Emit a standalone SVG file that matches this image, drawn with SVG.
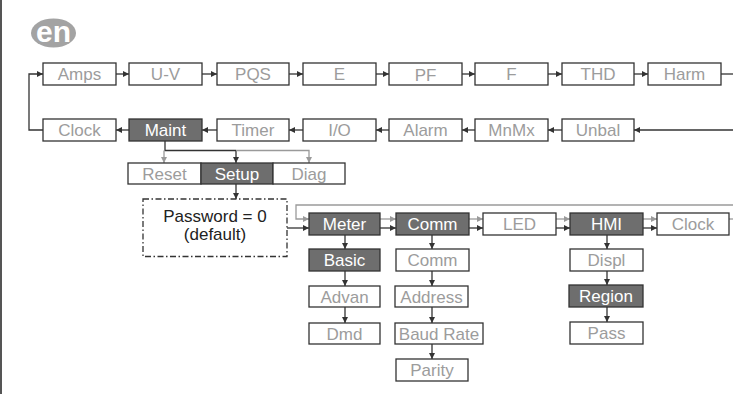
<svg xmlns="http://www.w3.org/2000/svg" width="733" height="394" viewBox="0 0 733 394">
<style>
.b{fill:#fff;stroke:#333;stroke-width:1.3}
.d{fill:#6e6e6e;stroke:#333;stroke-width:1.3}
.t{font-family:"Liberation Sans",Arial,sans-serif;font-size:17px;text-anchor:middle;fill:#9c9c9c}
.w{fill:#fff}
.k{fill:#222}
.c{fill:none;stroke:#333;stroke-width:1.3}
.g{fill:none;stroke:#9a9a9a;stroke-width:1.3}
.ca{marker-end:url(#ad)}
.ga{marker-end:url(#ag)}
</style>
<defs>
<marker id="ad" markerUnits="userSpaceOnUse" markerWidth="7" markerHeight="7" refX="6" refY="3" orient="auto"><path d="M0,0 L6,3 L0,6 z" fill="#333"/></marker>
<marker id="ag" markerUnits="userSpaceOnUse" markerWidth="7" markerHeight="7" refX="6" refY="3" orient="auto"><path d="M0,0 L6,3 L0,6 z" fill="#9a9a9a"/></marker>
</defs>
<rect width="733" height="394" fill="#fff"/>
<line x1="1" y1="0" x2="1" y2="394" stroke="#555" stroke-width="2"/>
<g id="badge">
<ellipse cx="53.5" cy="33" rx="22.5" ry="14.5" fill="#a3a3a3"/>
<text x="53.5" y="42" font-family="Liberation Sans,Arial,sans-serif" font-size="30" font-weight="bold" fill="#fff" text-anchor="middle">en</text>
</g>
<g id="connectors">
<!-- row 1 -->
<path class="c ca" d="M116,74 H129"/>
<path class="c ca" d="M202,74 H217"/>
<path class="c ca" d="M289,74 H303"/>
<path class="c ca" d="M376,74 H389"/>
<path class="c ca" d="M462,74 H475"/>
<path class="c ca" d="M548,74 H562"/>
<path class="c ca" d="M634,74 H648"/>
<path class="c" d="M721,74 H733"/>
<!-- row 2 -->
<path class="c ca" d="M733,130 H634"/>
<path class="c ca" d="M562,130 H548"/>
<path class="c ca" d="M475,130 H462"/>
<path class="c ca" d="M389,130 H376"/>
<path class="c ca" d="M303,130 H289"/>
<path class="c ca" d="M217,130 H202"/>
<path class="c ca" d="M129,130 H116"/>
<path class="c ca" d="M43,130 H29 V74 H43"/>
<!-- Maint to submenu -->
<path class="c" d="M165,141 V150.5 H236"/>
<path class="c ca" d="M236,150.5 V163"/>
<path class="g ga" d="M164,150.5 V163"/>
<path class="g ga" d="M236,150.5 H309 V163"/>
<!-- Setup to password -->
<path class="c ca" d="M236,184 V199"/>
<!-- row 4 -->
<path class="g ga" d="M733,205 H296 V219 H309"/>
<path class="c ca" d="M287,228 H309"/>
<path class="g ga" d="M380,219 H396"/>
<path class="c ca" d="M380,228 H396"/>
<path class="g ga" d="M469,219 H483"/>
<path class="c ca" d="M469,228 H483"/>
<path class="g ga" d="M556,219 H570"/>
<path class="c ca" d="M556,228 H570"/>
<path class="g ga" d="M643,219 H657"/>
<path class="c ca" d="M643,228 H657"/>
<path class="g" d="M729,219 H733"/>
<!-- columns -->
<path class="c ca" d="M345,235 V249"/>
<path class="c ca" d="M345,271 V286"/>
<path class="c ca" d="M345,307 V323"/>
<path class="c ca" d="M432,235 V249"/>
<path class="c ca" d="M432,271 V286"/>
<path class="c ca" d="M432,307 V323"/>
<path class="c ca" d="M432,344 V359"/>
<path class="c ca" d="M607,235 V249"/>
<path class="c ca" d="M607,271 V285"/>
<path class="c ca" d="M607,307 V322"/>
</g>
<g id="n-amps"><rect class="b" x="43" y="63" width="73" height="22"/><text class="t" x="79.5" y="80">Amps</text></g>
<g id="n-uv"><rect class="b" x="129" y="63" width="73" height="22"/><text class="t" x="165.5" y="80">U-V</text></g>
<g id="n-pqs"><rect class="b" x="217" y="63" width="72" height="22"/><text class="t" x="253" y="80">PQS</text></g>
<g id="n-e"><rect class="b" x="303" y="63" width="73" height="22"/><text class="t" x="339.5" y="80">E</text></g>
<g id="n-pf"><rect class="b" x="389" y="63" width="73" height="22"/><text class="t" x="425.5" y="81">PF</text></g>
<g id="n-f"><rect class="b" x="475" y="63" width="73" height="22"/><text class="t" x="511.5" y="80">F</text></g>
<g id="n-thd"><rect class="b" x="562" y="63" width="72" height="22"/><text class="t" x="598" y="80">THD</text></g>
<g id="n-harm"><rect class="b" x="648" y="63" width="73" height="22"/><text class="t" x="684.5" y="80">Harm</text></g>
<g id="n-clock1"><rect class="b" x="43" y="119" width="73" height="22"/><text class="t" x="79.5" y="136">Clock</text></g>
<g id="n-maint"><rect class="d" x="129" y="119" width="73" height="22"/><text class="t w" x="165.5" y="136">Maint</text></g>
<g id="n-timer"><rect class="b" x="217" y="119" width="72" height="22"/><text class="t" x="253" y="136">Timer</text></g>
<g id="n-io"><rect class="b" x="303" y="119" width="73" height="22"/><text class="t" x="339.5" y="136">I/O</text></g>
<g id="n-alarm"><rect class="b" x="389" y="119" width="73" height="22"/><text class="t" x="425.5" y="136">Alarm</text></g>
<g id="n-mnmx"><rect class="b" x="475" y="119" width="73" height="22"/><text class="t" x="511.5" y="136">MnMx</text></g>
<g id="n-unbal"><rect class="b" x="562" y="119" width="72" height="22"/><text class="t" x="598" y="136">Unbal</text></g>
<g id="n-reset"><rect class="b" x="128" y="163" width="73" height="21"/><text class="t" x="164.5" y="180">Reset</text></g>
<g id="n-setup"><rect class="d" x="201" y="163" width="72" height="21"/><text class="t w" x="237" y="180">Setup</text></g>
<g id="n-diag"><rect class="b" x="273" y="163" width="72" height="21"/><text class="t" x="309" y="180">Diag</text></g>
<g id="n-password"><rect x="143" y="199" width="144" height="57.5" fill="#fff" stroke="#333" stroke-width="1.3" stroke-dasharray="6,2.5,1.5,2.5"/><text class="t k" x="215" y="222">Password = 0</text><text class="t k" x="215" y="240">(default)</text></g>
<g id="n-meter"><rect class="d" x="309" y="213" width="71" height="22"/><text class="t w" x="344.5" y="230">Meter</text></g>
<g id="n-comm"><rect class="d" x="396" y="213" width="73" height="22"/><text class="t w" x="432.5" y="230">Comm</text></g>
<g id="n-led"><rect class="b" x="483" y="213" width="73" height="22"/><text class="t" x="519.5" y="230">LED</text></g>
<g id="n-hmi"><rect class="d" x="570" y="213" width="73" height="22"/><text class="t w" x="606.5" y="230">HMI</text></g>
<g id="n-clock2"><rect class="b" x="657" y="213" width="72" height="22"/><text class="t" x="693" y="230">Clock</text></g>
<g id="n-basic"><rect class="d" x="309" y="249" width="71" height="22"/><text class="t w" x="344.5" y="266">Basic</text></g>
<g id="n-advan"><rect class="b" x="309" y="286" width="71" height="21"/><text class="t" x="344.5" y="302.5">Advan</text></g>
<g id="n-dmd"><rect class="b" x="309" y="323" width="71" height="21"/><text class="t" x="344.5" y="339.5">Dmd</text></g>
<g id="n-comm2"><rect class="b" x="396" y="249" width="73" height="22"/><text class="t" x="432.5" y="266">Comm</text></g>
<g id="n-address"><rect class="b" x="395" y="286" width="73" height="21"/><text class="t" x="431.5" y="302.5">Address</text></g>
<g id="n-baud"><rect class="b" x="395" y="323" width="88" height="21"/><text class="t" x="439" y="339.5">Baud Rate</text></g>
<g id="n-parity"><rect class="b" x="396" y="359" width="72" height="22"/><text class="t" x="432" y="376">Parity</text></g>
<g id="n-displ"><rect class="b" x="570" y="249" width="73" height="22"/><text class="t" x="606.5" y="266">Displ</text></g>
<g id="n-region"><rect class="d" x="569" y="285" width="74" height="22"/><text class="t w" x="606" y="302">Region</text></g>
<g id="n-pass"><rect class="b" x="570" y="322" width="73" height="22"/><text class="t" x="606.5" y="339">Pass</text></g>
</svg>
